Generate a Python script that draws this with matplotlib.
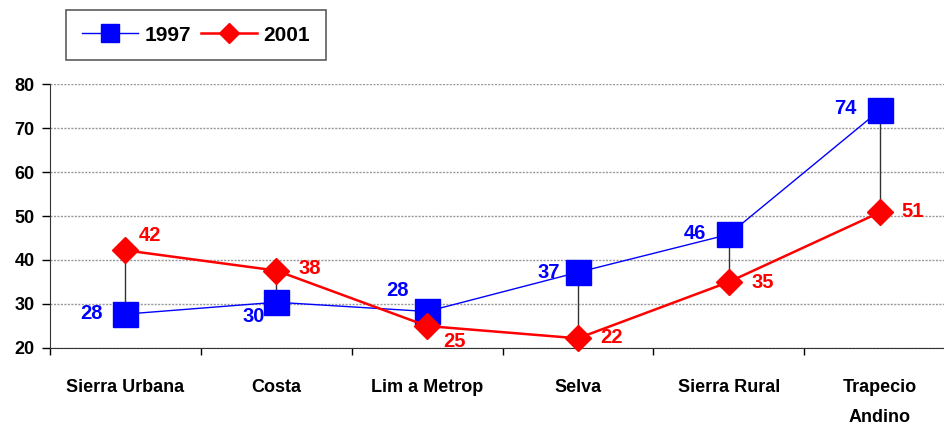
import numpy as np
import matplotlib.pyplot as plt

plt.rcParams['font.family'] = ['Liberation Sans', 'DejaVu Sans']
plt.rcParams['font.weight'] = 'bold'

regions = ['Sierra Urbana', 'Costa', 'Lim a Metrop', 'Selva', 'Sierra Rural', 'Trapecio\nAndino']
val_1997 = [27.7, 30.4, 28.3, 37.2, 45.8, 74.0]
val_2001 = [42.2, 37.6, 25.0, 22.2, 35.0, 50.8]
lab_1997 = [28, 30, 28, 37, 46, 74]
lab_2001 = [42, 38, 25, 22, 35, 51]

fig = plt.figure(figsize=(9.44, 4.26), dpi=100)
ax = fig.add_axes([50 / 944, 78 / 426, 905 / 944, 264 / 426])

x = np.arange(len(regions))

# high-low lines
ax.vlines(x, np.minimum(val_1997, val_2001), np.maximum(val_1997, val_2001),
          color='#333333', lw=1, zorder=1)

ax.plot(x, val_1997, color='blue', lw=1, marker='s', ms=18, mec='blue',
        label='1997', zorder=2, clip_on=False)
ax.plot(x, val_2001, color='red', lw=1.8, marker='D', ms=13.5, mec='red',
        label='2001', zorder=3, clip_on=False)

# value labels (offsets in points)
off_1997 = [(-24.5, 0.7), (-16.5, -10), (-21, 15), (-21, 0), (-24.5, 0.7), (-24.5, 1.4)]
off_2001 = [(18, 11), (24, 1.4), (19.5, -11), (24.5, 0.7), (24.5, 0), (24, 0.7)]
for i in range(len(x)):
    ax.annotate(str(lab_1997[i]), (x[i], val_1997[i]), xytext=off_1997[i],
                textcoords='offset points', color='blue', fontsize=14.5,
                fontweight='bold', ha='center', va='center')
    ax.annotate(str(lab_2001[i]), (x[i], val_2001[i]), xytext=off_2001[i],
                textcoords='offset points', color='red', fontsize=14.5,
                fontweight='bold', ha='center', va='center')

ax.set_xlim(-0.5, 5.5)
ax.set_ylim(20, 80)
ax.set_yticks(np.arange(20, 81, 10))
ax.yaxis.grid(True, linestyle=(0, (1.5, 1)), color='#999999', lw=1)
ax.set_axisbelow(True)

ax.set_xticks(np.arange(-0.5, 5.6, 1))
ax.set_xticklabels([])
ax.set_xticks(x, minor=True)
ax.set_xticklabels(regions, minor=True, fontsize=13, fontweight='bold',
                   linespacing=2.05, va='top')
ax.tick_params(axis='x', which='minor', length=0, pad=22)
ax.tick_params(axis='x', which='major', length=5, direction='out', width=1)
ax.tick_params(axis='y', length=6, direction='out', width=1, labelsize=13, pad=5)
for lab in ax.get_yticklabels():
    lab.set_fontweight('bold')

ax.spines['top'].set_visible(False)
ax.spines['right'].set_visible(False)
ax.spines['left'].set_color('#333333')
ax.spines['bottom'].set_color('#333333')

leg = fig.legend(loc='upper left', bbox_to_anchor=(66 / 944, 1 - 10 / 426), ncol=2,
                 frameon=True, fancybox=False, edgecolor='#333333',
                 prop={'weight': 'bold', 'size': 15}, markerscale=0.72,
                 handlelength=2.7, columnspacing=0.5, handletextpad=0.3,
                 borderpad=0.75, borderaxespad=0)
leg.get_frame().set_linewidth(1.2)

fig.savefig('out.png', dpi=100)
